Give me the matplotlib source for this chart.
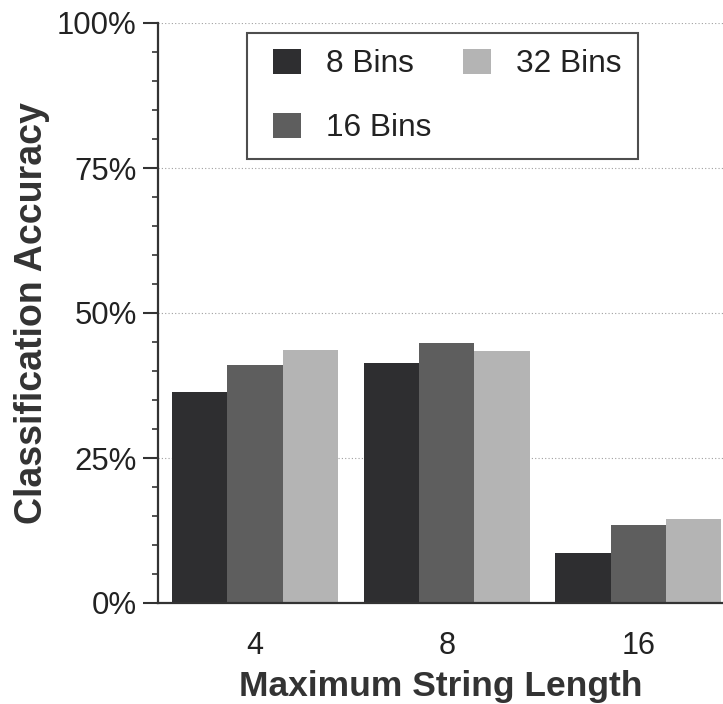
import numpy as np
import matplotlib
matplotlib.use("Agg")
import matplotlib.pyplot as plt
from matplotlib.ticker import MultipleLocator, FuncFormatter
from matplotlib.patches import Rectangle
from matplotlib.legend_handler import HandlerPatch
from matplotlib.container import BarContainer

plt.rcParams['font.family'] = ['Liberation Sans', 'DejaVu Sans']

# longitudes maximas de cadena (grupos) y precision por numero de bins
longitudes = ["4", "8", "16"]
series = ["8 Bins", "16 Bins", "32 Bins"]
bins_8 = [36.4, 41.3, 8.7]
bins_16 = [41.0, 44.8, 13.4]
bins_32 = [43.7, 43.4, 14.4]
colores = ["#2e2e30", "#5e5e5e", "#b4b4b4"]

fig = plt.figure(figsize=(7.23, 7.04), dpi=100)
ax = fig.add_axes([158 / 723, 1 - 603 / 704, 1 - 158 / 723, (603 - 23) / 704])

x = np.arange(len(longitudes))
ancho = 0.2886
for i, (nombre, valores) in enumerate(zip(series, [bins_8, bins_16, bins_32])):
    ax.bar(x + (i - 1) * ancho, valores, ancho, color=colores[i], label=nombre,
           linewidth=0, zorder=2)

ax.set_xlim(-0.506, 2.441)
ax.set_ylim(0, 100)
ax.set_xticks(x)
ax.set_xticklabels(longitudes)
ax.yaxis.set_major_locator(MultipleLocator(25))
ax.yaxis.set_minor_locator(MultipleLocator(5))
ax.yaxis.set_major_formatter(FuncFormatter(lambda v, p: f"{v:.0f}%"))

# lineas de cuadricula punteadas solo en y
ax.grid(axis="y", linestyle=(0, (1, 2)), color="#a0a0a0", linewidth=0.8, zorder=0)

for s in ["top", "right"]:
    ax.spines[s].set_visible(False)
for s in ["left", "bottom"]:
    ax.spines[s].set_linewidth(1.6)
    ax.spines[s].set_color("#333333")

ax.tick_params(axis="y", which="major", length=11, width=1.5, pad=4.3,
               labelsize=22.4, color="#333333", labelcolor="#222222")
ax.tick_params(axis="y", which="minor", length=4.5, width=1.2, color="#333333")
ax.tick_params(axis="x", length=0, pad=20, labelsize=22, labelcolor="#222222")

ax.set_xlabel("Maximum String Length", fontsize=25.5, fontweight="bold",
              color="#333333", labelpad=6.5)
ax.set_ylabel("Classification Accuracy", fontsize=27, fontweight="bold",
              color="#333333", labelpad=5)


# cuadrado de leyenda pegado a la derecha de su caja, deja margen a la izquierda
def cuadrado(legend, orig_handle, xdescent, ydescent, width, height, fontsize):
    lado = 20.2
    return Rectangle((-xdescent + width - lado, -ydescent), lado, height)


def copiar_estilo(tgt, src):
    hijo = next(iter(src.get_children()), None)
    if hijo is not None:
        tgt.update_from(hijo)


leg = ax.legend(ncol=2, loc="upper left", bbox_to_anchor=(0.1575, 0.983),
                borderaxespad=0, fontsize=22.8, frameon=True, fancybox=False,
                handlelength=1.2, handleheight=0.85, handletextpad=0.79,
                columnspacing=0.7, labelspacing=1.05, borderpad=0.5,
                handler_map={BarContainer: HandlerPatch(patch_func=cuadrado,
                                                        update_func=copiar_estilo)})
leg.get_frame().set_edgecolor("#222222")
leg.get_frame().set_linewidth(1.5)
for t in leg.get_texts():
    t.set_color("#222222")

fig.savefig("out.png", dpi=100)
